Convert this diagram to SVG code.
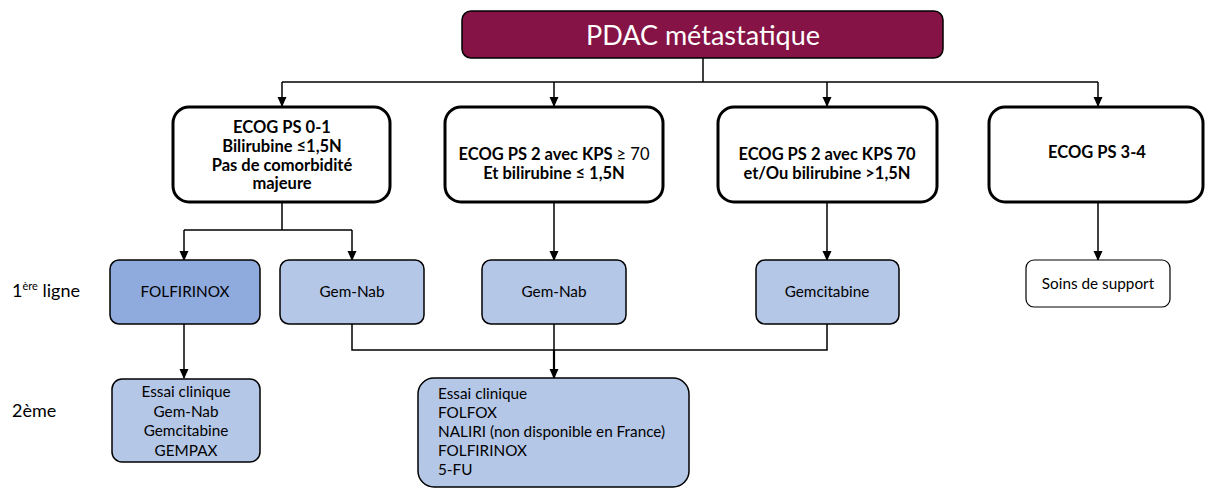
<svg xmlns="http://www.w3.org/2000/svg" width="1205" height="489" viewBox="0 0 1205 489">
<defs>
<marker id="arr" markerWidth="10" markerHeight="10" refX="9" refY="5" orient="auto" markerUnits="userSpaceOnUse">
<path d="M0,0.5 L10,5 L0,9.5 Z" fill="#000"/>
</marker>
<style>
text{font-family:Lato,"Liberation Sans",sans-serif;fill:#000}
.title{font-size:27px;fill:#fff}
.b{font-weight:bold;font-size:16.5px}
.r{font-size:15.3px}
.lab{font-size:18px}
.crit{fill:#fff;stroke:#000;stroke-width:3}
.t1{fill:#b4c7e7;stroke:#000;stroke-width:1.5}
.t1d{fill:#8faadc;stroke:#000;stroke-width:1.5}
.sup{fill:#fff;stroke:#000;stroke-width:1.2}
.c{fill:none;stroke:#000;stroke-width:1.5}
</style>
</defs>
<rect width="1205" height="489" fill="#fff"/>
<g id="connectors">
<path class="c" d="M703,58 V82"/>
<path class="c" d="M282,82 H1098"/>
<path class="c" d="M282,82 V106" marker-end="url(#arr)"/>
<path class="c" d="M554,82 V106" marker-end="url(#arr)"/>
<path class="c" d="M827,82 V106" marker-end="url(#arr)"/>
<path class="c" d="M1098,82 V106" marker-end="url(#arr)"/>
<path class="c" d="M282,202 V230 M184,230 H352"/>
<path class="c" d="M184,230 V260" marker-end="url(#arr)"/>
<path class="c" d="M352,230 V260" marker-end="url(#arr)"/>
<path class="c" d="M554,202 V260" marker-end="url(#arr)"/>
<path class="c" d="M827,202 V260" marker-end="url(#arr)"/>
<path class="c" d="M1098,202 V260" marker-end="url(#arr)"/>
<path class="c" d="M184,324 V378" marker-end="url(#arr)"/>
<path class="c" d="M352,324 V350 H827 V324"/>
<path class="c" d="M554,324 V350"/>
<path class="c" style="stroke-width:2.2" d="M554,350 V378" marker-end="url(#arr)"/>
</g>
<g id="n-root">
<rect x="462" y="11" width="481" height="47" rx="9" fill="#861345" stroke="#000" stroke-width="1.5"/>
<text class="title" x="703" y="45" text-anchor="middle">PDAC métastatique</text>
</g>
<g id="n-ps01">
<rect class="crit" x="173" y="107" width="217" height="95" rx="16"/>
<text class="b" text-anchor="middle"><tspan x="282" y="133">ECOG PS 0-1</tspan><tspan x="282" y="152">Bilirubine ≤1,5N</tspan><tspan x="282" y="170.5">Pas de comorbidité</tspan><tspan x="282" y="189">majeure</tspan></text>
</g>
<g id="n-ps2a">
<rect class="crit" x="445" y="107" width="218" height="95" rx="16"/>
<text class="b" text-anchor="middle"><tspan x="554" y="160">ECOG PS 2 avec KPS <tspan font-weight="normal">≥ 70</tspan></tspan><tspan x="554" y="178.5">Et bilirubine ≤ 1,5N</tspan></text>
</g>
<g id="n-ps2b">
<rect class="crit" x="718" y="107" width="219" height="95" rx="16"/>
<text class="b" text-anchor="middle"><tspan x="827" y="160">ECOG PS 2 avec KPS 70</tspan><tspan x="827" y="178.5">et/Ou bilirubine &gt;1,5N</tspan></text>
</g>
<g id="n-ps34">
<rect class="crit" x="989" y="107" width="214" height="95" rx="16"/>
<text class="b" x="1097" y="158" text-anchor="middle">ECOG PS 3-4</text>
</g>
<g id="n-folfirinox">
<rect class="t1d" x="110" y="260" width="150" height="64" rx="9"/>
<text class="r" x="185" y="297" text-anchor="middle">FOLFIRINOX</text>
</g>
<g id="n-gemnab1">
<rect class="t1" x="280" y="260" width="144" height="64" rx="9"/>
<text class="r" x="352" y="297" text-anchor="middle">Gem-Nab</text>
</g>
<g id="n-gemnab2">
<rect class="t1" x="482" y="260" width="144" height="64" rx="9"/>
<text class="r" x="554" y="297" text-anchor="middle">Gem-Nab</text>
</g>
<g id="n-gemcitabine">
<rect class="t1" x="756" y="260" width="143" height="64" rx="9"/>
<text class="r" x="827" y="297" text-anchor="middle">Gemcitabine</text>
</g>
<g id="n-soins">
<rect class="sup" x="1026" y="260" width="144" height="47" rx="8"/>
<text class="r" x="1098" y="289" text-anchor="middle">Soins de support</text>
</g>
<g id="n-second-left">
<rect class="t1" x="112" y="379" width="148" height="83" rx="10"/>
<text class="r" text-anchor="middle"><tspan x="186" y="397">Essai clinique</tspan><tspan x="186" y="416.5">Gem-Nab</tspan><tspan x="186" y="436">Gemcitabine</tspan><tspan x="186" y="455.5">GEMPAX</tspan></text>
</g>
<g id="n-second-right">
<rect class="t1" x="418" y="378" width="271" height="109" rx="16"/>
<text class="r"><tspan x="438" y="399">Essai clinique</tspan><tspan x="438" y="418">FOLFOX</tspan><tspan x="438" y="437">NALIRI (non disponible en France)</tspan><tspan x="438" y="456">FOLFIRINOX</tspan><tspan x="438" y="475">5-FU</tspan></text>
</g>
<g id="labels">
<text class="lab" x="12" y="297">1<tspan font-size="11" dy="-7">ère</tspan><tspan dy="7"> ligne</tspan></text>
<text class="lab" x="12" y="417">2ème</text>
</g>
</svg>
